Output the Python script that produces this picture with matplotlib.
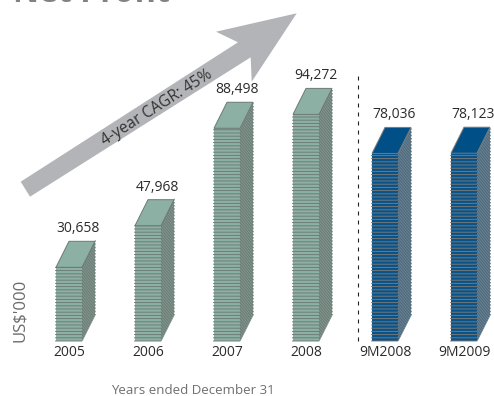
import matplotlib
matplotlib.use("Agg")
import matplotlib.pyplot as plt
from matplotlib.patches import Polygon
from matplotlib.transforms import Affine2D

plt.rcParams['font.family'] = ['Open Sans', 'DejaVu Sans']

categories = ['2005', '2006', '2007', '2008', '9M2008', '9M2009']
net_profit = [30658, 47968, 88498, 94272, 78036, 78123]
value_labels = ['30,658', '47,968', '88,498', '94,272', '78,036', '78,123']
# full years are green, the nine-month periods blue
is_partial = [False, False, False, False, True, True]

W, H = 494, 396
BASE_Y = 341        # pixel row of the zero line
FIRST_X = 69        # pixel column of the first bar's centre
STEP_X = 79         # pixels between bars
UNITS_PER_PX = 416

fig = plt.figure(figsize=(W / 100, H / 100), dpi=100)
ax = fig.add_axes([0, 0, 1, 1])
ax.set_xlim(-FIRST_X / STEP_X, (W - FIRST_X) / STEP_X)
ax.set_ylim(-(H - BASE_Y) * UNITS_PER_PX, BASE_Y * UNITS_PER_PX)
ax.axis('off')

# pixel coordinates with the origin top left, for the annotations
px = Affine2D().scale(1, -1).translate(0, H)

half = 13 / STEP_X
dx = 13 / STEP_X
dy = 26 * UNITS_PER_PX
slat = 3.2 * UNITS_PER_PX


def draw_stack(x, value, top_col, front_col, line_col, side_col, side_line):
    l, r = x - half, x + half
    # right side of the stack
    ax.add_patch(Polygon([(r, 0), (r + dx, dy), (r + dx, value + dy), (r, value)],
                         fc=side_col, ec='none', zorder=2))
    ax.add_patch(Polygon([(l, 0), (r, 0), (r, value), (l, value)],
                         fc=front_col, ec='none', zorder=2))
    n = int(value / slat)
    for i in range(n + 1):
        y = i * slat
        ax.plot([r, r + dx + 0.008], [y, y + dy * 1.04], color=side_line, lw=0.7,
                zorder=3, solid_capstyle='butt', snap=False)
        ax.plot([l - 0.012, r], [y, y], color=line_col, lw=0.65, zorder=4,
                solid_capstyle='butt', snap=False)
    ax.add_patch(Polygon([(l, value), (r, value), (r + dx, value + dy), (l + dx, value + dy)],
                         fc=top_col, ec=line_col, lw=0.7, zorder=5, joinstyle='miter'))


for i, value in enumerate(net_profit):
    if is_partial[i]:
        draw_stack(i, value, '#004f87', '#0a5389', '#7a7a78', '#3c5c74', '#6c8290')
    else:
        draw_stack(i, value, '#8cb0a4', '#8cb0a4', '#6c7874', '#5f726a', '#83958e')
    ax.text(i + 9.5 / STEP_X, value + dy + 12.5 * UNITS_PER_PX, value_labels[i],
            ha='center', va='center', fontsize=10, color='#2b2b2b', zorder=6)
    ax.text(i, -12 * UNITS_PER_PX, categories[i], ha='center', va='center',
            fontsize=10, color='#2b2b2b', zorder=6)

# growth arrow behind the bars
ax.add_patch(Polygon([(20.7, 181.7), (238, 42.3), (216, 31.7), (296.7, 13.3),
                      (251.7, 81.7), (250.7, 57.3), (30, 196.7)],
                     closed=True, fc='#b2b4b8', ec='none', transform=px, zorder=1))
ax.text(157, 108, '4-year CAGR: 45%', rotation=32.5, rotation_mode='anchor',
        ha='center', va='center', fontsize=11.2, color='#333333', transform=px, zorder=7)

# separator between the full years and the nine-month periods
ax.plot([(358 - FIRST_X) / STEP_X] * 2, [0, 269 * UNITS_PER_PX], color='#222222',
        lw=0.8, dashes=(3.6, 4.5), zorder=2)

fig.text(20, 310, "US$'000", rotation=90, ha='center', va='center', fontsize=12,
         color='#6a6a6a', transform=px)
fig.text(193, 390, 'Years ended December 31', ha='center', va='center', fontsize=9.5,
         color='#6f6f6f', transform=px)
# heading sits partly above the top edge
fig.text(13, 2, 'Net Profit', ha='left', va='baseline', fontsize=23, fontweight='bold',
         color='#808285', transform=px)

fig.savefig('out.png', dpi=100)
